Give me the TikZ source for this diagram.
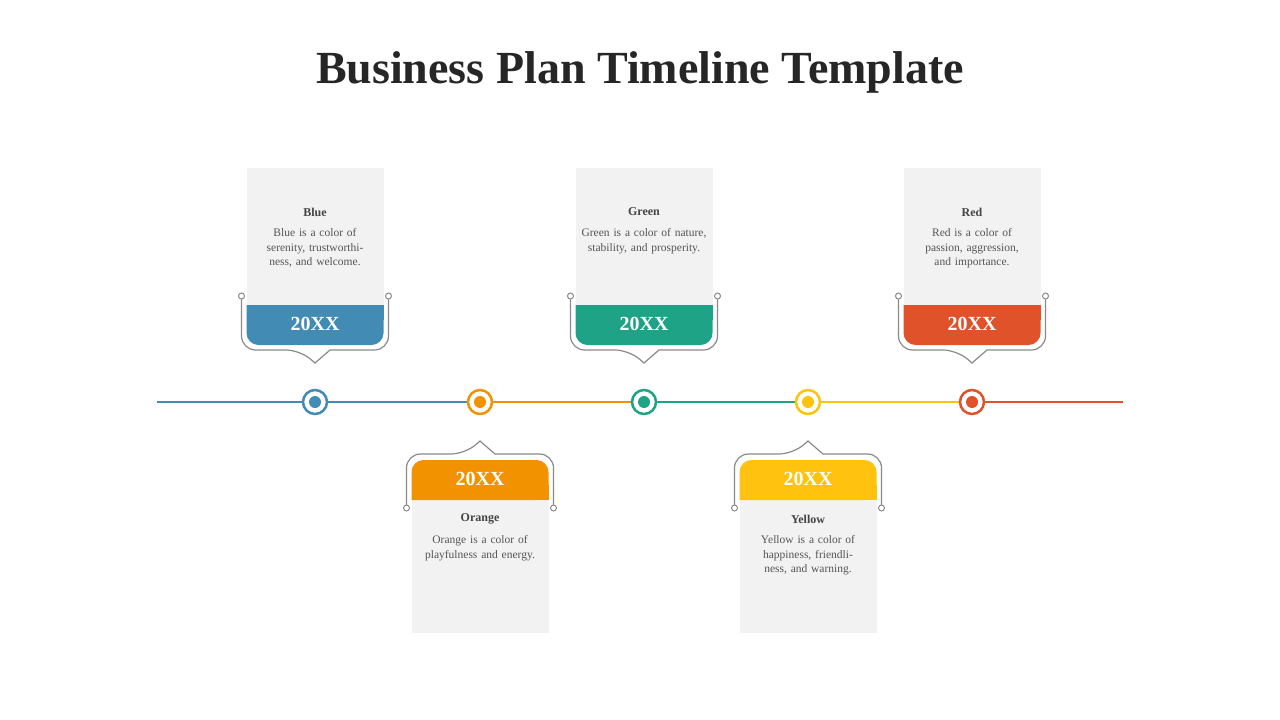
\documentclass[tikz,border=0pt]{standalone}
\usepackage{fontspec}
\setmainfont{Liberation Serif}
\definecolor{cblue}{HTML}{428BB5}
\definecolor{corange}{HTML}{F39200}
\definecolor{cgreen}{HTML}{1FA386}
\definecolor{cyellow}{HTML}{FFC20E}
\definecolor{cred}{HTML}{E0532A}
\definecolor{cgray}{HTML}{F2F2F2}
\definecolor{cline}{HTML}{8A8A8A}
\definecolor{ctext}{HTML}{555555}
\begin{document}
\begin{tikzpicture}[x=1pt,y=-1pt,
  bracket/.style={draw=cline,line width=1.2pt,rounded corners=14pt},
  pin/.style={circle,draw=cline,line width=1pt,fill=white,inner sep=0pt,minimum size=6pt},
  yeartxt/.style={text=white,font=\bfseries\fontsize{20}{22}\selectfont},
  headtxt/.style={text=ctext!80!black,font=\bfseries\fontsize{12}{14}\selectfont},
  bodytxt/.style={text=ctext,font=\fontsize{11.5}{14.5}\selectfont,align=center,text width=125pt},
  ring/.style={circle,draw=#1,line width=2.5pt,fill=white,minimum size=24pt,inner sep=0pt},
  dot/.style={circle,fill=#1,minimum size=12pt,inner sep=0pt}]
\useasboundingbox (0,0) rectangle (1280,720);
\node[font=\bfseries\fontsize{46}{50}\selectfont,text=black!85] (title) at (640,72) {Business Plan Timeline Template};
% timeline
\coordinate (L0) at (157,402); \coordinate (L6) at (1123,402);
\draw[cblue,line width=2.5pt] (L0) -- (480,402);
\draw[corange,line width=2.5pt] (480,402) -- (644,402);
\draw[cgreen,line width=2.5pt] (644,402) -- (808,402);
\draw[cyellow,line width=2.5pt] (808,402) -- (972,402);
\draw[cred,line width=2.5pt] (972,402) -- (L6);
% top cards
\foreach \cx/\col/\nm/\hd/\bd in {315/cblue/b/Blue/{Blue is a color of serenity, trustworthiness, and welcome.},
  644/cgreen/g/Green/{Green is a color of nature, stability, and prosperity.},
  972/cred/r/Red/{Red is a color of passion, aggression, and importance.}}{
  \fill[cgray] (\cx-68.5,168) rectangle (\cx+68.5,305);
  \fill[\col,rounded corners=12pt] (\cx-68.5,305) -- (\cx-68.5,345) -- (\cx+68.5,345) -- (\cx+68.5,305) [sharp corners] -- cycle;
  \fill[\col] (\cx-68.5,305) rectangle (\cx+68.5,320);
  \draw[bracket] (\cx-73.5,299) -- (\cx-73.5,350) -- (\cx-15,350) [sharp corners]-- (\cx,363) -- (\cx+15,350) [rounded corners=14pt] -- (\cx+73.5,350) -- (\cx+73.5,299);
  \node[pin] at (\cx-73.5,296) {};
  \node[pin] at (\cx+73.5,296) {};
  \node[yeartxt] (y\nm) at (\cx,324) {20XX};
  \node[headtxt] (h\nm) at (\cx,212) {\hd};
  \node[bodytxt,anchor=north] (t\nm) at (\cx,225) {\bd};
  \node[ring=\col] (c\nm) at (\cx,402) {};
  \node[dot=\col] at (c\nm) {};
}
% bottom cards
\foreach \cx/\col/\nm/\hd/\bd in {480/corange/o/Orange/{Orange is a color of playfulness and energy.},
  808/cyellow/y/Yellow/{Yellow is a color of happiness, friendliness, and warning.}}{
  \fill[cgray] (\cx-68.5,500) rectangle (\cx+68.5,633);
  \fill[\col,rounded corners=12pt] (\cx-68.5,500) -- (\cx-68.5,460) -- (\cx+68.5,460) -- (\cx+68.5,500) [sharp corners] -- cycle;
  \fill[\col] (\cx-68.5,485) rectangle (\cx+68.5,500);
  \draw[bracket] (\cx-73.5,505) -- (\cx-73.5,454) -- (\cx-15,454) [sharp corners]-- (\cx,441) -- (\cx+15,454) [rounded corners=14pt] -- (\cx+73.5,454) -- (\cx+73.5,505);
  \node[pin] at (\cx-73.5,508) {};
  \node[pin] at (\cx+73.5,508) {};
  \node[yeartxt] (y\nm) at (\cx,479) {20XX};
  \node[headtxt] (h\nm) at (\cx,519) {\hd};
  \node[bodytxt,anchor=north] (t\nm) at (\cx,532) {\bd};
  \node[ring=\col] (c\nm) at (\cx,402) {};
  \node[dot=\col] at (c\nm) {};
}
\end{tikzpicture}
\end{document}
